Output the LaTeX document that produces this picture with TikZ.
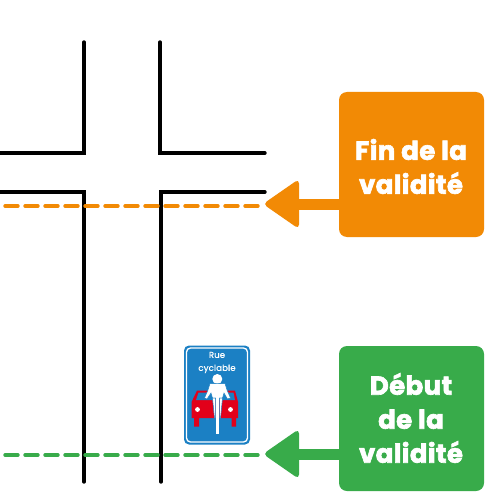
\documentclass[tikz,border=0pt]{standalone}
\usepackage{fontspec}
\setmainfont{Poppins}[BoldFeatures={FakeBold=2.4,LetterSpace=1.5}]
\newfontfamily\signfont{Poppins}[FakeBold=0.5,LetterSpace=2]
\definecolor{orangeC}{HTML}{F28A05}
\definecolor{greenC}{HTML}{38AB4A}
\definecolor{signblue}{HTML}{1B80C4}
\definecolor{carred}{HTML}{E2001A}
\tikzset{
  road/.style={line width=3.4pt,black,line cap=round,line join=miter},
  dashline/.style={line width=3.4pt,dash pattern=on 13pt off 7pt,line cap=round},
  callout/.style={fill=#1,rounded corners=8pt,minimum width=145pt,minimum height=145pt,inner sep=0pt},
  callouttext/.style={text=white,align=center,font=\fontsize{26}{34}\selectfont\bfseries,inner sep=0pt},
  shaft/.style={line width=11pt},
  heads/.style={rounded corners=4.5pt},
  rider/.style={fill=white,draw=signblue,line width=.5pt},
}
\begin{document}
\begin{tikzpicture}[x=1pt,y=-1pt]
\useasboundingbox (0,0) rectangle (500,500);
\fill[white] (0,0) rectangle (500,500);
% roads
\draw[road] (84,42) -- (84,153) -- (0,153);
\draw[road] (160,42) -- (160,153) -- (265,153);
\draw[road] (0,192) -- (84,192) -- (84,482);
\draw[road] (161,482) -- (161,192) -- (265,192);
% validity lines
\coordinate (finL) at (5,206); \coordinate (finR) at (262,206);
\coordinate (debL) at (5,455); \coordinate (debR) at (262,455);
\draw[dashline,orangeC] (finL) -- (finR);
\draw[dashline,greenC] (debL) -- (debR);
% callouts
\node[callout=orangeC] (fin) at (411.5,164.5) {};
\node[callout=greenC] (deb) at (411.5,418.5) {};
\node[callouttext] (fintxt) at (411,166.5) {Fin de la\\validité};
\node[callouttext] (debtxt) at (411,418) {Début\\de la\\validité};
\coordinate (finT) at (266,204); \coordinate (debT) at (266,454);
\draw[shaft,orangeC] (fin.west |- finT) -- (295,204);
\draw[shaft,greenC] (deb.west |- debT) -- (295,454);
\fill[orangeC,heads] (263,204) -- (299,179) -- (299,229) -- cycle;
\fill[greenC,heads] (263,454) -- (299,429) -- (299,479) -- cycle;
% sign
\fill[signblue,rounded corners=5pt] (184,345.5) rectangle (250,444.5);
\draw[white,line width=1.3pt,rounded corners=4pt] (186.5,348) rectangle (247.5,442);
\node[text=white,font=\fontsize{8.5}{13}\selectfont\signfont,inner sep=0pt,align=center] (signtxt) at (217,362.5) {Rue\\cyclable};
% car
\fill[carred] (197,390.7) -- (235,390.7) -- (238,401.7) -- (238,418) -- (236,418) -- (236,426.7) -- (231.7,426.7) -- (231.7,418) -- (199,418) -- (199,426.7) -- (194,426.7) -- (194,418) -- (191.7,418) -- (191.7,401.7) -- cycle;
\fill[signblue] (198.5,392.7) -- (233.5,392.7) -- (235,400) -- (196,400) -- cycle;
\fill[white] (197.5,409.5) circle (2.4);
\fill[white] (230.5,409.5) circle (2.4);
% cyclist
\fill[white] (217.3,379) circle (5);
\filldraw[rider] (210,383.5) -- (225,383.5) -- (227,390) -- (230.5,398) -- (227.5,399) -- (224,393) -- (222.5,398) -- (212.5,398) -- (211,393) -- (207,399) -- (204.5,398) -- (208,390) -- cycle;
\filldraw[rider] (212.5,398) -- (215.5,398) -- (215.5,418) -- (214.5,418) -- cycle;
\filldraw[rider] (219.5,398) -- (222.5,398) -- (220.5,418) -- (219.5,418) -- cycle;
\fill[white] (216,396) rectangle (218.8,433.5);
\end{tikzpicture}
\end{document}
